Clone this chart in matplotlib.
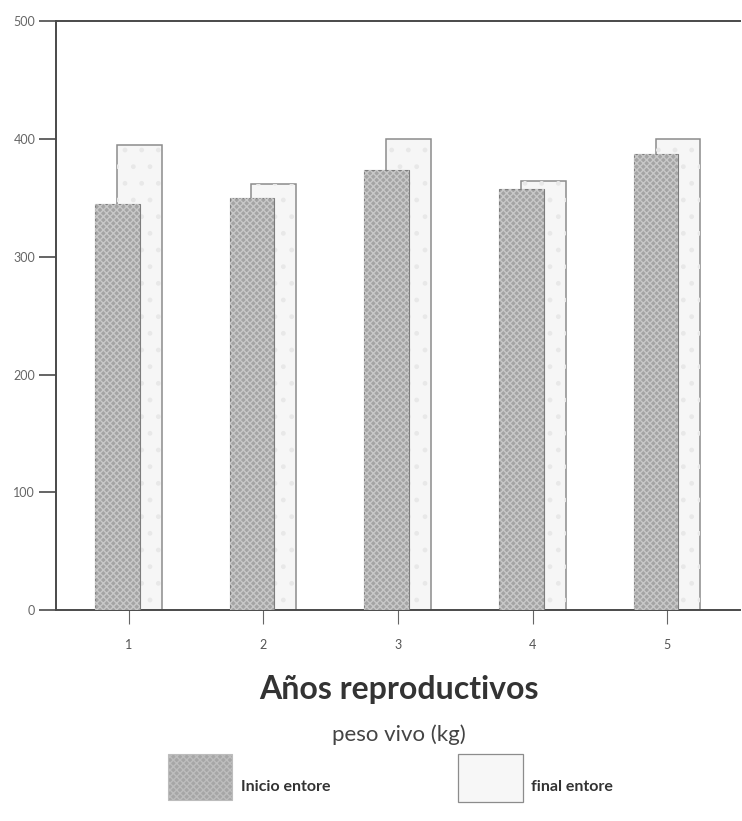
import numpy as np
import matplotlib
matplotlib.use('Agg')
import matplotlib.pyplot as plt
from matplotlib.patches import Rectangle

plt.rcParams['font.family'] = ['Lato', 'DejaVu Sans']

# datos (peso vivo, kg)
anios = [1, 2, 3, 4, 5]
inicio_entore = [345, 350, 374, 358, 387]
final_entore = [395, 362, 400, 364, 400]
y_ticks = [0, 100, 200, 300, 400, 500]

fig = plt.figure(figsize=(7.42, 8.21), dpi=100)
ax = fig.add_axes([0.0755, 0.257, 0.922, 0.717])

x = np.array(anios, dtype=float)
w = 0.333

# final entore (detras)
ax.bar(x + 0.078, final_entore, width=w, color='#f6f6f6', edgecolor='#8c8c8c', linewidth=1.1, zorder=2)
ax.bar(x + 0.078, final_entore, width=w, color='none', edgecolor='#e8e8e8', linewidth=0, hatch='.', zorder=2)

# inicio entore (delante)
ax.bar(x - 0.085, inicio_entore, width=w, color='#a4a4a4', edgecolor='#7d7d7d', linewidth=0.8, zorder=3)
ax.bar(x - 0.085, inicio_entore, width=w, color='none', edgecolor='#c8c8c8', linewidth=0, hatch='xxxxx', zorder=3)

ax.set_xlim(0.46, 5.54)
ax.set_ylim(0, 500)
ax.set_xticks(anios)
ax.set_xticklabels([str(a) for a in anios])
ax.set_yticks(y_ticks)

for s in ['left', 'bottom', 'top']:
    ax.spines[s].set_color('#4a4a4a')
    ax.spines[s].set_linewidth(1.4)
ax.spines['right'].set_visible(False)

ax.tick_params(axis='y', direction='out', length=12, width=1.2, color='#4a4a4a',
               labelsize=9, labelcolor='#666666', pad=3)
ax.tick_params(axis='x', direction='out', length=10, width=0.8, color='#666666',
               labelsize=9, labelcolor='#555555', pad=11)

fig.text(0.537, 0.16, 'Años reproductivos', ha='center', va='center',
         fontsize=23, fontweight='bold', color='#333333')
fig.text(0.537, 0.105, 'peso vivo (kg)', ha='center', va='center',
         fontsize=16, color='#444444')

# leyenda
fig.patches.append(Rectangle((168 / 742, 1 - 800 / 821), 64 / 742, 46 / 821,
                             transform=fig.transFigure, facecolor='#a6a6a6',
                             edgecolor='#bdbdbd', linewidth=0.8, hatch='xxxxx'))
fig.text(241 / 742, 1 - 787 / 821, 'Inicio entore', ha='left', va='center',
         fontsize=11.5, fontweight='bold', color='#333333')
fig.patches.append(Rectangle((458 / 742, 1 - 802 / 821), 65 / 742, 48 / 821,
                             transform=fig.transFigure, facecolor='#f7f7f7',
                             edgecolor='#8c8c8c', linewidth=0.9))
fig.text(531 / 742, 1 - 787 / 821, 'final entore', ha='left', va='center',
         fontsize=11.5, fontweight='bold', color='#333333')

fig.savefig('out.png', dpi=100)
